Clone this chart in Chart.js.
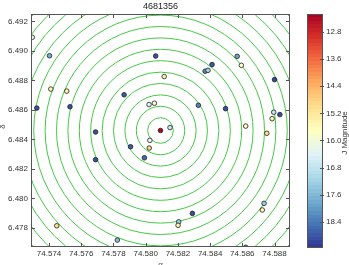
<!DOCTYPE html>
<html>
<head>
<meta charset="utf-8">
<script src="https://cdn.jsdelivr.net/npm/chart.js@4.4.1/dist/chart.umd.min.js"></script>
<style>
html, body { margin: 0; padding: 0; background: #fff; }
#wrap { position: relative; width: 349px; height: 265px; }
</style>
</head>
<body>
<div id="wrap"><canvas id="grafico" width="349" height="265"></canvas></div>
<script>
var titulo = '4681356';

// estrellas: ascension recta, declinacion, magnitud J
var ra = [74.57296, 74.57403, 74.58062, 74.57411, 74.57510, 74.57866, 74.57324, 74.57530,
          74.58021, 74.58054, 74.57689, 74.58092, 74.58115, 74.58568, 74.58594, 74.58412,
          74.58369, 74.58387, 74.58800, 74.58327, 74.58496, 74.58795, 74.58833, 74.58785,
          74.58151, 74.58621, 74.57906, 74.58026, 74.58022, 74.57992, 74.57689, 74.57448,
          74.57824, 74.58752, 74.58735, 74.58724, 74.58290, 74.58205, 74.58201, 74.58621];
var dec = [6.49092, 6.48967, 6.48965, 6.48741, 6.48727, 6.48702, 6.48612, 6.48621,
           6.48636, 6.48645, 6.48450, 6.48460, 6.48826, 6.48963, 6.48902, 6.48907,
           6.48862, 6.48868, 6.48805, 6.48631, 6.48608, 6.48584, 6.48568, 6.48540,
           6.48480, 6.48490, 6.48350, 6.48393, 6.48341, 6.48275, 6.48262, 6.47814,
           6.47717, 6.48441, 6.47966, 6.47921, 6.47898, 6.47841, 6.47817, 6.47668];
var jmag = [16.3, 17.8, 18.9, 15.5, 15.4, 18.8, 18.9, 18.9,
            16.4, 16.0, 18.9, 12.4, 15.3, 17.9, 15.8, 18.8,
            18.2, 17.2, 19.0, 18.3, 18.9, 16.8, 18.9, 15.5,
            16.7, 15.6, 18.8, 16.3, 14.8, 18.6, 18.9, 15.0,
            17.5, 15.0, 17.3, 15.5, 18.9, 17.3, 15.4, 18.0];

var xTicks = [74.574, 74.576, 74.578, 74.580, 74.582, 74.584, 74.586, 74.588];
var yTicks = [6.478, 6.480, 6.482, 6.484, 6.486, 6.488, 6.490, 6.492];
var cbarTicks = [12.8, 13.6, 14.4, 15.2, 16.0, 16.8, 17.6, 18.4];
var cbarRango = [12.27, 19.17];

// circulos de contorno alrededor del objetivo (radios en grados)
var centroAnillos = [74.58092, 6.4846];
var radiosAnillos = [0.000868, 0.001641, 0.002414, 0.003186, 0.003959, 0.004732, 0.005505,
                     0.006278, 0.007051, 0.007824, 0.008597, 0.009369, 0.010142, 0.010915, 0.011688];

// mapa de color RdYlBu
var paleta = [[165,0,38],[215,48,39],[244,109,67],[253,174,97],[254,224,144],[255,255,191],
              [224,243,248],[171,217,233],[116,173,209],[69,117,180],[49,54,149]];

function colorMag(m) {
    var t = (m - cbarRango[0]) / (cbarRango[1] - cbarRango[0]);
    t = Math.max(0, Math.min(1, t));
    var p = t * (paleta.length - 1);
    var i = Math.min(Math.floor(p), paleta.length - 2);
    var f = p - i;
    var c = [];
    for (var k = 0; k < 3; k++) {
        c.push(Math.round(paleta[i][k] + (paleta[i + 1][k] - paleta[i][k]) * f));
    }
    return 'rgb(' + c.join(',') + ')';
}

var fuente = '"Liberation Sans", Arial, sans-serif';

var extras = {
    id: 'extras',
    beforeDatasetsDraw: function(chart) {
        var ctx = chart.ctx, a = chart.chartArea;
        var xs = chart.scales.x, ys = chart.scales.y;
        var cx = xs.getPixelForValue(centroAnillos[0]);
        var cy = ys.getPixelForValue(centroAnillos[1]);
        ctx.save();
        ctx.beginPath();
        ctx.rect(a.left, a.top, a.right - a.left, a.bottom - a.top);
        ctx.clip();
        ctx.strokeStyle = '#44c844';
        ctx.lineWidth = 1;
        for (var i = 0; i < radiosAnillos.length; i++) {
            var r = Math.abs(ys.getPixelForValue(centroAnillos[1] + radiosAnillos[i]) - cy);
            ctx.beginPath();
            ctx.arc(cx, cy, r, 0, Math.PI * 2);
            ctx.stroke();
        }
        ctx.restore();
    },
    afterDraw: function(chart) {
        var ctx = chart.ctx, a = chart.chartArea;
        var xs = chart.scales.x, ys = chart.scales.y;
        ctx.save();

        // marco y marcas internas
        ctx.strokeStyle = '#555';
        ctx.lineWidth = 1;
        ctx.strokeRect(a.left + 0.5, a.top + 0.5, a.right - a.left - 1, a.bottom - a.top - 1);
        ctx.beginPath();
        xTicks.forEach(function(v) {
            var px = Math.round(xs.getPixelForValue(v)) + 0.5;
            ctx.moveTo(px, a.bottom); ctx.lineTo(px, a.bottom - 4);
            ctx.moveTo(px, a.top); ctx.lineTo(px, a.top + 4);
        });
        yTicks.forEach(function(v) {
            var py = Math.round(ys.getPixelForValue(v)) + 0.5;
            ctx.moveTo(a.left, py); ctx.lineTo(a.left + 4, py);
            ctx.moveTo(a.right, py); ctx.lineTo(a.right - 4, py);
        });
        ctx.stroke();

        // titulo
        ctx.fillStyle = '#222';
        ctx.font = '9px ' + fuente;
        ctx.textAlign = 'center';
        ctx.textBaseline = 'middle';
        ctx.fillText(titulo, (a.left + a.right) / 2, 7);

        // etiquetas de ejes (recortadas en el original)
        ctx.fillStyle = '#444';
        ctx.font = '8px ' + fuente;
        ctx.textBaseline = 'top';
        ctx.fillText('α', (a.left + a.right) / 2, 261);
        ctx.save();
        ctx.translate(3, (a.top + a.bottom) / 2 - 4);
        ctx.rotate(-Math.PI / 2);
        ctx.textBaseline = 'middle';
        ctx.fillText('δ', 0, 0);
        ctx.restore();

        // barra de color
        var x0 = 307, x1 = 323, y0 = a.top, y1 = a.bottom + 1;
        var n = 64;
        for (var i = 0; i < n; i++) {
            var m = cbarRango[0] + (i + 0.5) / n * (cbarRango[1] - cbarRango[0]);
            ctx.fillStyle = colorMag(m);
            var ya = y0 + i / n * (y1 - y0), yb = y0 + (i + 1) / n * (y1 - y0);
            ctx.fillRect(x0, Math.floor(ya), x1 - x0, Math.ceil(yb) - Math.floor(ya));
        }
        ctx.strokeStyle = '#555';
        ctx.strokeRect(x0 + 0.5, y0 + 0.5, x1 - x0 - 1, y1 - y0 - 1);
        ctx.fillStyle = '#333';
        ctx.font = '8px ' + fuente;
        ctx.textAlign = 'left';
        ctx.textBaseline = 'middle';
        ctx.beginPath();
        cbarTicks.forEach(function(v) {
            var py = y0 + (v - cbarRango[0]) / (cbarRango[1] - cbarRango[0]) * (y1 - y0);
            ctx.moveTo(x1 - 3, Math.round(py) + 0.5); ctx.lineTo(x1 + 1, Math.round(py) + 0.5);
            ctx.fillText(v.toFixed(1), x1 + 3, py);
        });
        ctx.stroke();
        ctx.save();
        ctx.translate(345, (y0 + y1) / 2 + 2);
        ctx.rotate(-Math.PI / 2);
        ctx.textAlign = 'center';
        ctx.fillText('J Magnitude', 0, 0);
        ctx.restore();

        ctx.restore();
    }
};

var puntos = ra.map(function(x, i) { return { x: x, y: dec[i] }; });

var ctx = document.getElementById('grafico').getContext('2d');
var grafico = new Chart(ctx, {
    type: 'scatter',
    data: {
        datasets: [{
            data: puntos,
            pointBackgroundColor: jmag.map(colorMag),
            pointBorderColor: '#1e1e1e',
            pointBorderWidth: 0.8,
            pointRadius: 2.3,
            pointHoverRadius: 2.3
        }]
    },
    options: {
        responsive: false,
        animation: false,
        devicePixelRatio: 1,
        layout: { padding: { top: 14, right: 59, bottom: 0, left: 0 } },
        plugins: { legend: { display: false }, tooltip: { enabled: false } },
        scales: {
            x: {
                type: 'linear',
                min: 74.57288,
                max: 74.58896,
                grid: { display: false, drawTicks: false },
                border: { display: false },
                afterBuildTicks: function(s) { s.ticks = xTicks.map(function(v) { return { value: v }; }); },
                afterFit: function(s) { s.height = 18; },
                ticks: {
                    padding: 2,
                    maxRotation: 0,
                    autoSkip: false,
                    color: '#333',
                    font: { family: fuente, size: 8 },
                    callback: function(v) { return Number(v).toFixed(3); }
                }
            },
            y: {
                type: 'linear',
                min: 6.4767,
                max: 6.4925,
                grid: { display: false, drawTicks: false },
                border: { display: false },
                afterBuildTicks: function(s) { s.ticks = yTicks.map(function(v) { return { value: v }; }); },
                afterFit: function(s) { s.width = 31; },
                ticks: {
                    padding: 3,
                    autoSkip: false,
                    color: '#333',
                    font: { family: fuente, size: 8 },
                    callback: function(v) { return Number(v).toFixed(3); }
                }
            }
        }
    },
    plugins: [extras]
});
</script>
</body>
</html>
